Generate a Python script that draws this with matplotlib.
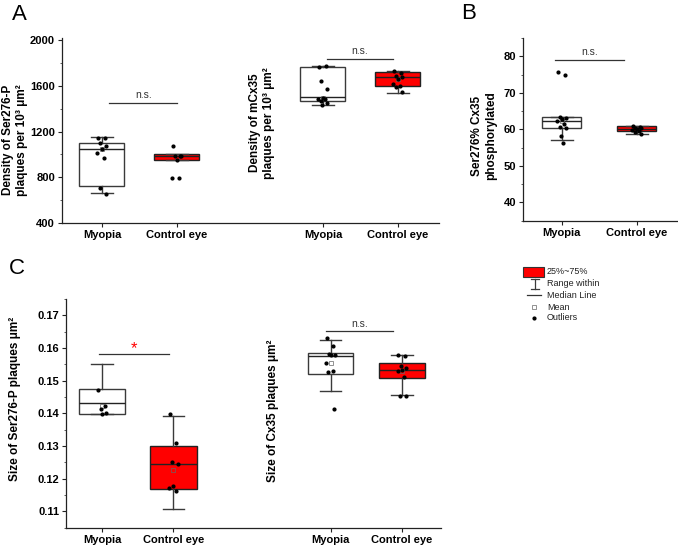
import numpy as np
import matplotlib.pyplot as plt
from matplotlib.ticker import MultipleLocator, FormatStrFormatter
from matplotlib.patches import Rectangle

plt.rcParams['font.family'] = ['Liberation Sans', 'DejaVu Sans']

W, H = 678, 549
GROUPS = ['Myopia', 'Control eye']

# --- dane: [Myopia, Control eye] ---
# A lewy: gestosc plytek Ser276-P
A1_Q1 = [726, 955]
A1_MED = [1047, 985]
A1_Q3 = [1103, 1008]
A1_LO = [660, 955]
A1_HI = [1152, 1008]
A1_MEAN = [1045, 975]
A1_PTS_MYO = [1141, 1141, 1100, 1074, 1045, 1010, 971, 704, 654]
A1_PTS_CTL = [1076, 989, 989, 989, 951, 791, 791]

# A prawy: gestosc plytek mCx35
A2_Q1 = [1467, 1601]
A2_MED = [1499, 1677]
A2_Q3 = [1767, 1720]
A2_LO = [1435, 1540]
A2_HI = [1779, 1729]
A2_MEAN = [1496, 1660]
A2_PTS_MYO = [1770, 1775, 1642, 1572, 1496, 1482, 1482, 1466, 1447, 1432]
A2_PTS_CTL = [1729, 1714, 1688, 1679, 1659, 1620, 1601, 1593, 1543]

# B: % fosforylacji
B_Q1 = [60.5, 59.5]
B_MED = [62.3, 60.1]
B_Q3 = [63.3, 60.8]
B_LO = [57.1, 58.8]
B_HI = [63.3, 60.9]
B_MEAN = [62.3, 60.1]
B_PTS_MYO = [75.7, 75.0, 63.5, 63.2, 62.7, 62.3, 61.5, 60.7, 60.3, 58.2, 56.2]
B_PTS_CTL = [60.8, 60.6, 60.5, 60.3, 60.1, 59.9, 59.6, 59.2, 58.8]

# C lewy: rozmiar plytek Ser276-P
C1_Q1 = [0.1399, 0.1167]
C1_MED = [0.1431, 0.1245]
C1_Q3 = [0.1475, 0.1299]
C1_LO = [0.1399, 0.1106]
C1_HI = [0.1552, 0.1393]
C1_MEAN = [0.1422, 0.1228]
C1_PTS_MYO = [0.1472, 0.1422, 0.1413, 0.1400, 0.1398]
C1_PTS_CTL = [0.1397, 0.1308, 0.1250, 0.1245, 0.1178, 0.1172, 0.1162]

# C prawy: rozmiar plytek Cx35
C2_Q1 = [0.1521, 0.1509]
C2_MED = [0.1575, 0.1533]
C2_Q3 = [0.1584, 0.1553]
C2_LO = [0.1469, 0.1456]
C2_HI = [0.1624, 0.1580]
C2_MEAN = [0.1553, 0.1530]
C2_PTS_MYO = [0.1632, 0.1605, 0.1582, 0.1580, 0.1578, 0.1553, 0.1530, 0.1527, 0.1412]
C2_PTS_CTL = [0.1580, 0.1576, 0.1545, 0.1540, 0.1533, 0.1530, 0.1510, 0.1454, 0.1452]

JITTER = [-0.05, 0.04, -0.02, 0.06, 0.0, -0.06, 0.03, -0.03, 0.05, -0.01, 0.02]
EDGE = '#3a3a3a'
RED = '#ff0000'

fig = plt.figure(figsize=(W / 100, H / 100), dpi=100)


def axes_px(left, top, right, bottom):
    return fig.add_axes([left / W, 1 - bottom / H, (right - left) / W, (bottom - top) / H])


def style_axes(ax):
    for s in ['top', 'right']:
        ax.spines[s].set_visible(False)
    for s in ['left', 'bottom']:
        ax.spines[s].set_color('#222222')
        ax.spines[s].set_linewidth(0.9)
    ax.tick_params(axis='both', which='major', direction='out', length=3, width=0.8,
                   color='#222222', labelsize=8, pad=2)
    ax.tick_params(axis='y', which='minor', direction='out', length=1.6, width=0.6, color='#444444')
    ax.tick_params(axis='x', which='minor', length=0)
    for lab in ax.get_xticklabels() + ax.get_yticklabels():
        lab.set_fontweight('bold')


def draw_pair(ax, pos, q1, med, q3, lo, hi, mean, pts_myo, pts_ctl, width):
    stats = []
    for i in range(2):
        stats.append({'med': med[i], 'q1': q1[i], 'q3': q3[i], 'whislo': lo[i],
                      'whishi': hi[i], 'mean': mean[i], 'fliers': []})
    res = ax.bxp(stats, positions=pos, widths=width, patch_artist=True,
                 showmeans=True, showfliers=False, capwidths=0.3,
                 boxprops=dict(edgecolor=EDGE, linewidth=1.0),
                 whiskerprops=dict(color=EDGE, linewidth=1.0),
                 capprops=dict(color=EDGE, linewidth=1.0),
                 medianprops=dict(color='#222222', linewidth=1.0),
                 meanprops=dict(marker='s', markersize=2.2, markerfacecolor='none',
                                markeredgecolor='#666666', markeredgewidth=0.5))
    res['boxes'][0].set_facecolor('white')
    res['boxes'][1].set_facecolor(RED)
    res['boxes'][1].set_edgecolor('#222222')
    for p, pts in zip(pos, [pts_myo, pts_ctl]):
        xs = [p + JITTER[k % len(JITTER)] for k in range(len(pts))]
        ax.plot(xs, pts, 'o', color='black', markersize=2.0, zorder=4)


def sig_line(ax, x0, x1, y, txt, dy, red=False):
    ax.plot([x0, x1], [y, y], color='#333333', lw=0.9)
    if red:
        ax.text((x0 + x1) / 2, y + dy, txt, ha='center', va='center', color=RED, fontsize=12)
    else:
        ax.text((x0 + x1) / 2, y + dy, txt, ha='center', va='center', color='#333333', fontsize=7.5)


# --- Panel A ---
axA = axes_px(62, 38, 439, 223)
posA1, posA2 = [1, 2], [3.947, 4.947]
draw_pair(axA, posA1, A1_Q1, A1_MED, A1_Q3, A1_LO, A1_HI, A1_MEAN, A1_PTS_MYO, A1_PTS_CTL, 0.6)
draw_pair(axA, posA2, A2_Q1, A2_MED, A2_Q3, A2_LO, A2_HI, A2_MEAN, A2_PTS_MYO, A2_PTS_CTL, 0.6)
axA.set_xlim(0.467, 5.494)
axA.set_ylim(400, 2020)
axA.set_xticks(posA1 + posA2)
axA.set_xticklabels(GROUPS * 2)
axA.yaxis.set_major_locator(MultipleLocator(400))
axA.yaxis.set_minor_locator(MultipleLocator(200))
style_axes(axA)
sig_line(axA, 1.1, 2.0, 1447, 'n.s.', 70)
sig_line(axA, 4.0, 4.88, 1840, 'n.s.', 70)

# --- Panel B ---
axB = axes_px(523, 38, 678, 220.7)
posB = [1, 2]
draw_pair(axB, posB, B_Q1, B_MED, B_Q3, B_LO, B_HI, B_MEAN, B_PTS_MYO, B_PTS_CTL, 0.52)
axB.set_xlim(0.48, 2.55)
axB.set_ylim(35, 85)
axB.set_xticks(posB)
axB.set_xticklabels(GROUPS)
axB.yaxis.set_major_locator(MultipleLocator(10))
axB.yaxis.set_minor_locator(MultipleLocator(5))
style_axes(axB)
sig_line(axB, 0.91, 1.83, 79.1, 'n.s.', 2.2)

# --- Panel C ---
axC = axes_px(66, 299, 441, 527.7)
posC1, posC2 = [1, 2], [4.2, 5.2]
draw_pair(axC, posC1, C1_Q1, C1_MED, C1_Q3, C1_LO, C1_HI, C1_MEAN, C1_PTS_MYO, C1_PTS_CTL, 0.65)
draw_pair(axC, posC2, C2_Q1, C2_MED, C2_Q3, C2_LO, C2_HI, C2_MEAN, C2_PTS_MYO, C2_PTS_CTL, 0.64)
axC.set_xlim(0.497, 5.745)
axC.set_ylim(0.105, 0.175)
axC.set_xticks(posC1 + posC2)
axC.set_xticklabels(GROUPS * 2)
axC.yaxis.set_major_locator(MultipleLocator(0.01))
axC.yaxis.set_minor_locator(MultipleLocator(0.005))
axC.yaxis.set_major_formatter(FormatStrFormatter('%.2f'))
style_axes(axC)
sig_line(axC, 0.96, 1.94, 0.1582, '*', 0.0017, red=True)
sig_line(axC, 4.13, 5.08, 0.1653, 'n.s.', 0.0021)

# --- opisy osi ---
ylab = dict(rotation=90, ha='center', va='center', fontsize=8.5, fontweight='bold',
            linespacing=1.3, multialignment='center')
fig.text(15 / W, 1 - 140 / H, 'Density of Ser276-P\nplaques per 10³ μm²', **ylab)
fig.text(262 / W, 1 - 123 / H, 'Density of mCx35\nplaques per 10³ μm²', **ylab)
fig.text(484 / W, 1 - 136 / H, 'Ser276% Cx35\nphosphorylated', **ylab)
fig.text(15 / W, 1 - 399 / H, 'Size of Ser276-P plaques μm²', **ylab)
fig.text(273 / W, 1 - 411 / H, 'Size of Cx35 plaques μm²', **ylab)

# litery paneli
fig.text(19.5 / W, 1 - 14.5 / H, 'A', fontsize=16, ha='center', va='center')
fig.text(469 / W, 1 - 13.5 / H, 'B', fontsize=16, ha='center', va='center')
fig.text(16.5 / W, 1 - 269 / H, 'C', fontsize=16, ha='center', va='center')

# --- legenda ---
axL = axes_px(515, 260, 640, 325)
axL.set_xlim(515, 640)
axL.set_ylim(325, 260)
axL.axis('off')
axL.add_patch(Rectangle((523, 267), 21, 10, facecolor=RED, edgecolor='#333333', lw=0.8))
axL.plot([535, 535], [279, 288.5], color=EDGE, lw=0.9)
axL.plot([531, 539], [279, 279], color=EDGE, lw=0.9)
axL.plot([531, 539], [288.5, 288.5], color=EDGE, lw=0.9)
axL.plot([527, 541], [295, 295], color='#333333', lw=0.9)
axL.plot([534], [307], 's', markersize=2.2, markerfacecolor='none', markeredgecolor='#666666',
         markeredgewidth=0.5)
axL.plot([534], [318], 'o', color='black', markersize=2.0)
leg_txt = ['25%~75%', 'Range within', 'Median Line', 'Mean', 'Outliers']
for t, y in zip(leg_txt, [272, 284, 295, 307, 318]):
    axL.text(547, y, t, fontsize=6.5, ha='left', va='center', color='#222222')

plt.savefig('out.png', dpi=100)
